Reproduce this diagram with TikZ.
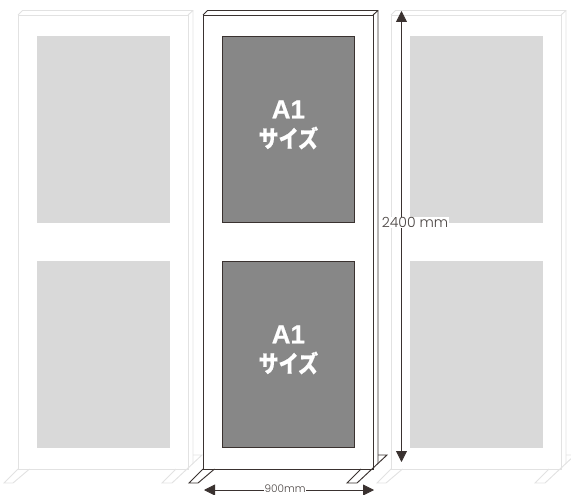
\documentclass[tikz,border=0pt]{standalone}
\usepackage{fontspec}
\setmainfont{Liberation Sans}
\newfontfamily\labelfont[BoldFeatures={FakeBold=0.6}]{Liberation Sans}
\newfontfamily\jpfont[BoldFeatures={FakeBold=0.5}]{Noto Sans CJK JP}
\newfontfamily\dimfont{Poppins Light}
\usetikzlibrary{arrows.meta,calc}

\definecolor{mainedge}{HTML}{3A3230}
\definecolor{mainboard}{HTML}{878787}
\definecolor{ghostedge}{HTML}{E2E2E2}
\definecolor{ghostboard}{HTML}{D9D9D9}
\definecolor{dimtext}{HTML}{4A4442}

\newcommand{\sizename}{\scalebox{1}[1.18]{\fontsize{20}{29}\jpfont\selectfont サイズ}}

\begin{document}
\begin{tikzpicture}[
    x=1pt, y=-1pt,
    board/.style={rectangle, draw, line width=0.7pt, minimum width=132pt, minimum height=186pt, anchor=north west, inner sep=0pt},
    boardlabel/.style={align=center, text=white, font=\labelfont\bfseries\fontsize{26}{29}\selectfont, inner sep=0pt, yshift=4.5pt},
    dimline/.style={{Triangle[width=11pt,length=11pt]}-{Triangle[width=11pt,length=11pt]}, line width=0.8pt, mainedge},
    dimlabel/.style={fill=white, text=dimtext, inner sep=0.5pt}
]
\useasboundingbox (0,0) rectangle (571,495);

% Three panels, the middle one last
\foreach \dx/\name/\edge/\fillcol in {-185/left/ghostedge/ghostboard, 188/right/ghostedge/ghostboard, 0/main/mainedge/mainboard} {
  \begin{scope}[xshift=\dx pt, draw=\edge, line width=0.95pt]
    % feet
    \draw (203,469) -- (189,483) -- (198,483) -- (214.5,469);
    \draw (361,469) -- (347,483) -- (357,483) -- (387,455) -- (378,455);
    % frame
    \draw (203,15) rectangle (373,469);
    \draw (203,15) -- (207.5,10.5) -- (378,10.5) -- (378,463);
    \draw (373,15) -- (378,10.5);
    % boards
    \node[board, draw=\fillcol, fill=\fillcol] (\name-upper) at (222,36) {};
    \node[board, draw=\fillcol, fill=\fillcol] (\name-lower) at (222,261) {};
  \end{scope}
}
\draw[mainedge, line width=0.7pt] (main-upper.north west) rectangle (main-upper.south east);
\draw[mainedge, line width=0.7pt] (main-lower.north west) rectangle (main-lower.south east);

% Labels on the boards
\node[boardlabel] (upper-label) at (main-upper) {A1\\\sizename};
\node[boardlabel] (lower-label) at (main-lower) {A1\\\sizename};

% Dimensions
\coordinate (height-top) at (401.5,11);
\coordinate (height-bottom) at (401.5,462);
\coordinate (width-left) at (204,490);
\coordinate (width-right) at (374,490);
\draw[dimline] (height-top) -- (height-bottom);
\draw[dimline] (width-left) -- (width-right);
\node[dimlabel, font=\dimfont\fontsize{14}{14}\selectfont] (height-label) at (415,222.5) {2400 mm};
\node[dimlabel, font=\dimfont\fontsize{10.5}{10.5}\selectfont] (width-label) at (285,489) {900mm};
\end{tikzpicture}
\end{document}
